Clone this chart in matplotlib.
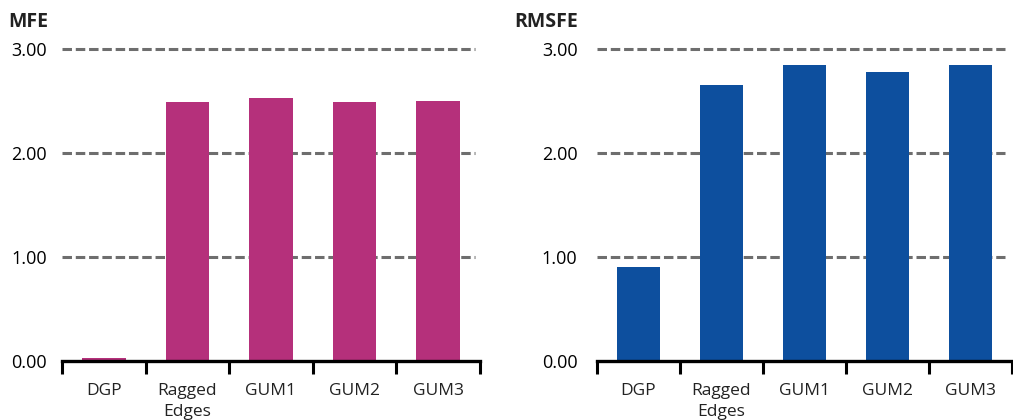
import matplotlib.pyplot as plt
import numpy as np

plt.rcParams['font.family'] = ['Open Sans', 'DejaVu Sans']

# 데이터
categories = ['DGP', 'Ragged\nEdges', 'GUM1', 'GUM2', 'GUM3']
mfe = [0.03, 2.49, 2.53, 2.49, 2.50]
rmsfe = [0.90, 2.65, 2.85, 2.78, 2.85]
yticks = [0.0, 1.0, 2.0, 3.0]

mfe_color = '#B5307B'
rmsfe_color = '#0D4F9E'
grid_color = '#6E6E6E'

fig = plt.figure(figsize=(10.13, 4.2), dpi=100)
ax1 = fig.add_axes([0.0612, 0.1405, 0.4126, 0.743])
ax2 = fig.add_axes([0.5893, 0.1405, 0.4097, 0.743])


def draw(ax, values, color, title, grid_to, title_x, ypad):
    x = np.arange(len(categories))
    # 점선 그리드 (막대 뒤)
    for y in yticks[1:]:
        ax.axhline(y, xmin=0, xmax=grid_to, color=grid_color,
                   linestyle=(0, (3.1, 1.25)), linewidth=2.2, clip_on=False, zorder=1)
    ax.bar(x, values, width=0.52, color=color, zorder=2)
    ax.set_xlim(-0.5, len(categories) - 0.5)
    ax.set_ylim(0, 3.0)

    for s in ['top', 'right', 'left']:
        ax.spines[s].set_visible(False)
    ax.spines['bottom'].set_linewidth(2.4)
    ax.spines['bottom'].set_zorder(3)

    # 카테고리 경계 눈금 + 가운데 라벨
    ax.set_xticks(np.arange(len(categories) + 1) - 0.5)
    ax.set_xticklabels([])
    ax.tick_params(axis='x', which='major', direction='out', length=9, width=2.2)
    ax.set_xticks(x, minor=True)
    ax.set_xticklabels(categories, minor=True, fontsize=12.5, color='#222222',
                       linespacing=1.4)
    ax.tick_params(axis='x', which='minor', length=0, pad=16)

    ax.set_yticks(yticks)
    ax.set_yticklabels([f'{v:.2f}' for v in yticks], fontsize=13)
    ax.tick_params(axis='y', length=0, pad=ypad)

    fig.text(title_x, 0.935, title, fontsize=14, fontweight='bold', color='#222222')


draw(ax1, mfe, mfe_color, 'MFE', 0.988, 0.008, 11)
draw(ax2, rmsfe, rmsfe_color, 'RMSFE', 0.983, 0.508, 14)

plt.savefig('out.png', dpi=100)
